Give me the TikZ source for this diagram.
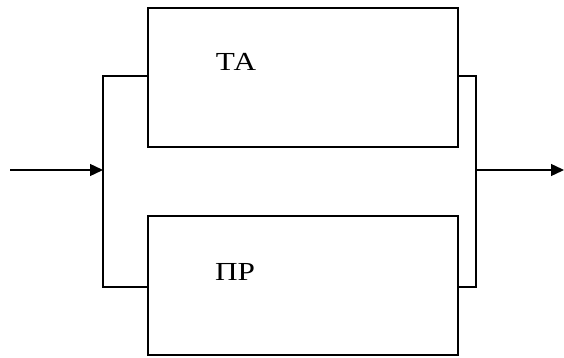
\documentclass[tikz,border=0pt]{standalone}
\usepackage{fontspec}
\setmainfont{Liberation Serif}
\usetikzlibrary{arrows.meta}
\newcommand\lblfont{\fontsize{26pt}{30pt}\selectfont}
\begin{document}
\begin{tikzpicture}[x=1pt,y=-1pt,
  wire/.style={line width=1.4pt},
  unit/.style={draw,line width=1.4pt,minimum width=310pt,minimum height=139pt,inner sep=0pt},
  lbl/.style={inner sep=0pt,xscale=1.2},
  flow/.style={wire,-{Triangle[length=13pt,width=12pt]}}]
\useasboundingbox (0,0) rectangle (564,358);
% two parallel units
\node[unit] (ta) at (303,77.5) {};
\node[unit] (pr) at (303,285.5) {};
\node[lbl] (talbl) at (236,62) {\lblfont ТА};
\node[lbl] (prlbl) at (235,272) {\lblfont ПР};
% split and merge points
\coordinate (lt) at (103,76);
\coordinate (lb) at (103,287);
\coordinate (rt) at (476,76);
\coordinate (rb) at (476,287);
\coordinate (in) at (10,170);
\coordinate (jin) at (103,170);
\coordinate (jout) at (476,170);
\coordinate (out) at (564,170);
% branches
\draw[wire] (ta.west |- lt) -- (lt) -- (lb) -- (pr.west |- lb);
\draw[wire] (ta.east |- rt) -- (rt) -- (rb) -- (pr.east |- rb);
% input and output
\draw[flow] (in) -- (jin);
\draw[flow] (jout) -- (out);
\end{tikzpicture}
\end{document}
